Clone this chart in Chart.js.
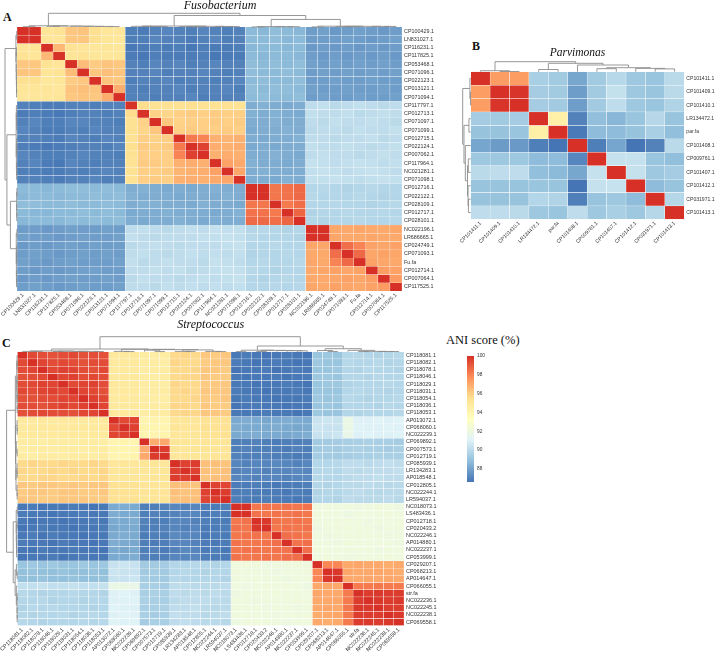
<!DOCTYPE html>
<html><head><meta charset="utf-8">
<script src="https://cdn.jsdelivr.net/npm/chart.js@4.4.1/dist/chart.umd.min.js"></script>
<style>
html,body{margin:0;padding:0;background:#fff;}
body{width:722px;height:652px;position:relative;overflow:hidden;}
canvas{position:absolute;}
.lab{position:absolute;font-family:'Liberation Serif','Times New Roman',serif;color:#111;line-height:1;white-space:nowrap;}
</style></head><body>
<div class="lab" style="left:3px;top:11px;font-weight:bold;font-size:12px">A</div>
<div class="lab" style="left:472px;top:40px;font-weight:bold;font-size:12px">B</div>
<div class="lab" style="left:2px;top:337px;font-weight:bold;font-size:12px">C</div>
<div class="lab" style="left:446px;top:334px;font-size:12.5px">ANI score (%)</div>
<canvas id="chartA" width="440" height="341" style="left:0;top:0"></canvas>
<canvas id="chartB" width="267" height="215" style="left:455px;top:30px"></canvas>
<canvas id="chartC" width="446" height="334" style="left:0;top:318px"></canvas>
<canvas id="chartL" width="60" height="138" style="left:455px;top:350px"></canvas>
<script>
// ---------------- DATA ----------------
const fusoLabels = ['CP100429.1','LN831027.1','CP116231.1','CP117825.1','CP053468.1','CP071096.1','CP022123.1','CP013121.1','CP071094.1',
 'CP117797.1','CP012713.1','CP071097.1','CP071099.1','CP012715.1','CP022124.1','CP007062.1','CP117964.1','NC021281.1','CP071098.1',
 'CP012716.1','CP022122.1','CP028109.1','CP012717.1','CP028101.1',
 'NC022196.1','LR686665.1','CP024749.1','CP071093.1','Fu.fa','CP012714.1','CP007064.1','CP117525.1'];

const fusoANI = [
[100,100,95.2,95.3,96.2,96.3,95.5,95.1,95.0, 86.9,86.8,87.0,87.1,87.0,86.9,87.1,87.0,86.9,87.0, 88.7,88.6,88.8,88.7,88.6, 87.8,87.9,87.7,87.8,87.9,87.8,87.7,87.8],
[100,100,95.2,95.2,96.2,96.2,95.5,95.1,95.0, 86.9,86.9,87.1,87.0,87.0,86.8,87.0,87.1,86.9,87.0, 88.7,88.7,88.8,88.6,88.7, 87.8,87.8,87.8,87.9,87.8,87.7,87.8,87.9],
[95.2,95.2,100,96.6,95.3,95.2,95.0,95.1,95.0, 86.7,86.8,86.9,86.8,86.9,86.7,86.9,86.8,86.8,86.9, 88.6,88.7,88.7,88.6,88.7, 87.7,87.8,87.7,87.8,87.7,87.8,87.7,87.8],
[95.3,95.2,96.6,100,95.2,95.3,95.1,95.0,95.1, 86.8,86.7,86.9,86.8,86.8,86.8,86.9,86.7,86.8,86.8, 88.7,88.6,88.7,88.7,88.6, 87.8,87.7,87.8,87.7,87.8,87.7,87.8,87.7],
[96.2,96.2,95.3,95.2,100,96.5,96.1,96.3,96.2, 87.0,86.9,87.1,87.0,87.1,86.9,87.0,87.1,87.0,87.0, 88.8,88.7,88.8,88.7,88.8, 87.9,87.8,87.9,87.8,87.9,87.8,87.9,87.8],
[96.3,96.2,95.2,95.3,96.5,100,96.2,96.4,96.3, 87.0,87.0,87.1,86.9,87.0,87.0,87.1,87.0,86.9,87.0, 88.8,88.7,88.7,88.8,88.7, 87.8,87.9,87.8,87.9,87.8,87.9,87.8,87.9],
[95.5,95.5,95.0,95.1,96.1,96.2,100,96.3,96.2, 86.9,87.0,87.0,87.1,86.9,87.0,87.0,86.9,87.0,87.1, 88.7,88.8,88.7,88.7,88.8, 87.8,87.8,87.9,87.8,87.8,87.9,87.8,87.8],
[95.1,95.1,95.1,95.0,96.3,96.4,96.3,100,96.9, 87.0,86.9,87.0,87.0,87.1,86.9,87.0,87.0,87.1,86.9, 88.8,88.7,88.8,88.8,88.7, 87.9,87.8,87.8,87.9,87.8,87.8,87.9,87.8],
[95.0,95.0,95.0,95.1,96.2,96.3,96.2,96.9,100, 87.0,87.0,86.9,87.0,87.0,87.1,86.9,87.0,87.0,87.0, 88.7,88.8,88.7,88.7,88.8, 87.8,87.9,87.8,87.8,87.9,87.8,87.8,87.9],
[87.0,86.9,86.8,86.8,87.0,87.0,86.9,87.0,87.0, 100,95.6,95.4,95.4,95.4,95.5,95.4,95.3,95.4,95.3, 88.3,88.4,88.3,88.2,88.3, 90.1,90.2,90.0,90.1,90.2,90.1,90.0,90.1],
[86.8,86.9,86.8,86.7,86.9,87.0,87.0,86.9,87.0, 95.6,100,95.9,95.8,96.0,96.1,96.0,96.1,96.0,96.0, 88.4,88.3,88.4,88.3,88.2, 90.2,90.1,90.1,90.2,90.0,90.1,90.2,90.1],
[87.0,87.1,86.9,86.9,87.1,87.1,87.0,87.0,86.9, 95.4,95.9,100,96.2,95.9,96.0,96.0,96.1,96.0,96.1, 88.3,88.3,88.4,88.3,88.3, 90.1,90.0,90.2,90.1,90.1,90.2,90.1,90.0],
[87.1,87.0,86.8,86.8,87.0,86.9,87.1,87.0,87.0, 95.4,95.8,96.2,100,96.0,96.1,96.0,96.0,96.1,96.0, 88.2,88.3,88.3,88.4,88.3, 90.0,90.1,90.1,90.0,90.2,90.1,90.1,90.2],
[87.0,87.0,86.9,86.8,87.1,87.0,86.9,87.1,87.0, 95.4,96.0,95.9,96.0,100,98.2,98.0,96.8,96.7,96.8, 88.3,88.2,88.3,88.3,88.4, 90.1,90.1,90.0,90.1,90.1,90.2,90.0,90.1],
[86.9,86.8,86.7,86.8,86.9,87.0,87.0,86.9,87.1, 95.5,96.1,96.0,96.1,98.2,100,99.6,96.9,96.8,96.9, 88.2,88.3,88.2,88.3,88.3, 90.2,90.1,90.1,90.2,90.1,90.0,90.1,90.2],
[87.1,87.0,86.9,86.9,87.0,87.1,87.0,87.0,86.9, 95.4,96.0,96.0,96.0,98.0,99.6,100,96.8,96.9,96.8, 88.3,88.3,88.4,88.3,88.2, 90.1,90.2,90.1,90.1,90.0,90.1,90.2,90.1],
[87.0,87.1,86.8,86.7,87.1,87.0,86.9,87.0,87.0, 95.3,96.1,96.1,96.0,96.8,96.9,96.8,100,97.2,97.0, 88.4,88.3,88.3,88.2,88.3, 90.3,90.2,90.1,90.2,90.3,90.2,90.1,90.2],
[86.9,86.9,86.8,86.8,87.0,86.9,87.0,87.1,87.0, 95.4,96.0,96.0,96.1,96.7,96.8,96.9,97.2,100,97.1, 88.3,88.4,88.3,88.3,88.3, 90.2,90.3,90.2,90.1,90.2,90.3,90.2,90.1],
[87.0,87.0,86.9,86.8,87.0,87.0,87.1,86.9,87.0, 95.3,96.0,96.1,96.0,96.8,96.9,96.8,97.0,97.1,100, 88.3,88.3,88.2,88.4,88.3, 90.2,90.2,90.3,90.2,90.1,90.2,90.3,90.2],
[88.7,88.7,88.6,88.7,88.8,88.8,88.7,88.8,88.7, 88.3,88.4,88.3,88.2,88.3,88.2,88.3,88.4,88.3,88.3, 100,100,98.3,98.4,98.6, 89.8,89.9,89.8,89.7,89.8,89.9,89.8,89.8],
[88.6,88.7,88.7,88.6,88.7,88.7,88.8,88.7,88.8, 88.4,88.3,88.3,88.3,88.2,88.3,88.3,88.3,88.4,88.3, 100,100,98.3,98.4,98.6, 89.9,89.8,89.8,89.8,89.9,89.8,89.7,89.8],
[88.8,88.8,88.7,88.7,88.8,88.7,88.7,88.8,88.7, 88.3,88.4,88.4,88.3,88.3,88.2,88.4,88.3,88.3,88.2, 98.3,98.3,100,98.2,98.5, 89.8,89.8,89.9,89.8,89.8,89.7,89.8,89.9],
[88.7,88.6,88.6,88.7,88.7,88.8,88.7,88.8,88.7, 88.2,88.3,88.3,88.4,88.3,88.3,88.3,88.2,88.3,88.4, 98.4,98.4,98.2,100,98.7, 89.7,89.8,89.8,89.9,89.8,89.8,89.9,89.8],
[88.6,88.7,88.7,88.6,88.8,88.7,88.8,88.7,88.8, 88.3,88.2,88.3,88.3,88.4,88.3,88.2,88.3,88.3,88.3, 98.6,98.6,98.5,98.7,100, 89.8,89.7,89.8,89.8,89.9,89.8,89.8,89.9],
[87.8,87.8,87.7,87.8,87.9,87.8,87.8,87.9,87.8, 90.1,90.2,90.1,90.0,90.1,90.2,90.1,90.3,90.2,90.2, 89.8,89.9,89.8,89.7,89.8, 100,100,97.1,97.0,97.1,97.0,97.0,97.1],
[87.9,87.8,87.8,87.7,87.8,87.9,87.8,87.8,87.9, 90.2,90.1,90.0,90.1,90.1,90.1,90.2,90.2,90.3,90.2, 89.9,89.8,89.8,89.8,89.7, 100,100,97.1,97.0,97.0,97.1,97.0,97.0],
[87.7,87.8,87.7,87.8,87.9,87.8,87.9,87.8,87.8, 90.0,90.1,90.2,90.1,90.0,90.1,90.1,90.1,90.2,90.3, 89.8,89.8,89.9,89.8,89.8, 97.1,97.1,100,98.5,98.0,97.2,97.1,97.2],
[87.8,87.9,87.8,87.7,87.8,87.9,87.8,87.9,87.8, 90.1,90.2,90.1,90.0,90.1,90.2,90.1,90.2,90.1,90.2, 89.7,89.8,89.8,89.9,89.8, 97.0,97.0,98.5,100,98.6,97.1,97.2,97.1],
[87.9,87.8,87.7,87.8,87.9,87.8,87.8,87.8,87.9, 90.2,90.0,90.1,90.2,90.1,90.1,90.0,90.3,90.2,90.1, 89.8,89.9,89.8,89.8,89.9, 97.1,97.0,98.0,98.6,100,97.2,97.1,97.0],
[87.8,87.7,87.8,87.7,87.8,87.9,87.9,87.8,87.8, 90.1,90.1,90.2,90.1,90.2,90.0,90.1,90.2,90.3,90.2, 89.9,89.8,89.7,89.8,89.8, 97.0,97.1,97.2,97.1,97.2,100,97.3,97.2],
[87.7,87.8,87.7,87.8,87.9,87.8,87.8,87.9,87.8, 90.0,90.2,90.1,90.1,90.0,90.1,90.2,90.1,90.2,90.3, 89.8,89.7,89.8,89.9,89.8, 97.0,97.0,97.1,97.2,97.1,97.3,100,97.4],
[87.8,87.9,87.8,87.7,87.8,87.9,87.8,87.8,87.9, 90.1,90.1,90.0,90.2,90.1,90.2,90.1,90.2,90.1,90.2, 89.8,89.8,89.9,89.8,89.9, 97.1,97.0,97.2,97.1,97.0,97.2,97.4,100]
];

// dendrogram: leaf = index, node = [left, right, relative height]
const fusoTree = [
  [[0,1,0.02],[[2,3,0.05],[4,[5,[6,[7,8,0.03],0.04],0.05],0.06],0.07],0.09],
  [[[9,[10,[11,12,0.03],0.04],0.05],[[13,[14,15,0.01],0.03],[16,[17,18,0.03],0.04],0.05],0.07],
   [[[19,20,0.005],[21,[22,23,0.02],0.025],0.03],[[24,25,0.005],[[26,[27,28,0.02],0.025],[29,[30,31,0.04],0.045],0.05],0.06],0.55],0.84],
  1];

const parvLabels = ['CP101411.1','CP101409.1','CP101410.1','LR134472.1','par.fa','CP101408.1','CP009761.1','CP101407.1','CP101412.1','CP031971.1','CP101413.1'];
const parvANI = [
[100,97.3,97.3,89.5,89.3,88.1,89.3,89.9,89.2,89.1,90.0],
[97.3,100,99.9,89.4,89.3,87.8,89.3,90.25,89.2,89.1,90.0],
[97.3,99.9,100,89.4,89.3,87.8,89.3,90.1,89.2,89.1,89.7],
[89.4,89.3,89.4,100,94.4,87.0,88.85,88.6,89.1,89.85,89.05],
[89.0,89.0,89.1,94.4,100,86.75,88.75,88.75,89.0,89.5,88.85],
[88.05,87.75,87.7,86.9,86.6,100,86.9,88.05,86.6,87.0,90.0],
[89.2,89.2,89.2,88.75,88.75,87.1,100,90.3,90.3,89.1,88.85],
[90.0,90.1,90.1,88.85,88.7,88.1,90.3,100,90.3,89.2,89.4],
[89.05,89.05,89.05,89.1,89.05,86.6,90.3,90.35,100,88.75,89.05],
[89.0,89.0,89.0,89.8,89.7,86.9,89.05,89.2,88.75,100,89.85],
[90.1,90.1,90.0,89.2,89.1,90.1,89.2,89.5,89.2,89.85,100]
];
const parvTree = [[0,[1,2,0.02],0.1],[[3,4,0.22],[5,[[6,7,0.3],[8,[9,10,0.28],0.33],0.4],0.67],0.84],1];

const streptoLabels = ['CP118081.1','CP118082.1','CP118078.1','CP118046.1','CP118029.1','CP118031.1','CP118054.1','CP118036.1','CP118053.1',
 'AP013072.1','CP068060.1','NC022239.1','CP069892.1','CP007573.1','CP012719.1','CP085939.1','LR134283.1','AP018548.1',
 'CP012805.1','NC022244.1','LR594037.1','NC018073.1','LS483436.1','CP012718.1','CP020433.2','NC022246.1','AP014880.1','NC022237.1','CP053999.1',
 'CP029207.1','CP068213.1','AP014647.1','CP066055.1','str.fa','NC022236.1','NC022245.1','NC022238.1','CP069558.1'];
const streptoANI = [
[100,99.4,99.3,99.2,99.3,99.4,99.2,99.3,99.2, 94.9,94.8,94.9, 94.7,94.6,94.7, 95.7,95.8,95.7, 96.2,96.1,96.2, 86.7,86.8,86.7,86.6,86.7,86.8,86.7,86.6, 89.1,89.2,89.1, 89.8,89.9,89.8,89.7,89.8,89.9],
[99.4,100,99.5,99.3,99.4,99.3,99.2,99.3,99.3, 94.8,94.9,94.9, 94.7,94.7,94.6, 95.8,95.7,95.7, 96.1,96.2,96.2, 86.8,86.7,86.6,86.7,86.8,86.7,86.6,86.7, 89.2,89.1,89.1, 89.9,89.8,89.8,89.9,89.7,89.8],
[99.3,99.5,100,99.4,99.6,99.5,99.3,99.2,99.4, 94.9,94.9,94.8, 94.6,94.7,94.7, 95.7,95.7,95.8, 96.2,96.2,96.1, 86.6,86.7,86.7,86.8,86.6,86.7,86.8,86.7, 89.1,89.1,89.2, 89.8,89.7,89.9,89.8,89.8,89.7],
[99.2,99.3,99.4,100,99.5,99.6,99.3,99.4,99.3, 94.8,94.9,94.9, 94.7,94.6,94.7, 95.7,95.8,95.8, 96.2,96.1,96.1, 86.7,86.6,86.7,86.7,86.8,86.6,86.7,86.8, 89.2,89.2,89.1, 89.8,89.8,89.7,89.9,89.8,89.8],
[99.3,99.4,99.6,99.5,100,99.4,99.5,99.6,99.3, 94.9,94.8,94.8, 94.7,94.7,94.6, 95.8,95.7,95.7, 96.1,96.2,96.2, 86.7,86.7,86.6,86.7,86.7,86.8,86.7,86.6, 89.1,89.2,89.2, 89.7,89.8,89.8,89.8,89.9,89.8],
[99.4,99.3,99.5,99.6,99.4,100,99.5,99.4,99.2, 94.9,94.9,94.9, 94.6,94.7,94.7, 95.7,95.8,95.7, 96.2,96.2,96.2, 86.8,86.7,86.7,86.6,86.7,86.7,86.8,86.7, 89.1,89.1,89.1, 89.8,89.9,89.8,89.8,89.7,89.8],
[99.2,99.2,99.3,99.3,99.5,99.5,100,99.6,99.4, 94.8,94.9,94.8, 94.7,94.6,94.6, 95.7,95.7,95.8, 96.1,96.1,96.2, 86.7,86.8,86.7,86.7,86.6,86.7,86.7,86.8, 89.2,89.1,89.2, 89.9,89.8,89.7,89.8,89.8,89.9],
[99.3,99.3,99.2,99.4,99.6,99.4,99.6,100,99.5, 94.9,94.8,94.9, 94.7,94.7,94.7, 95.8,95.8,95.7, 96.2,96.1,96.1, 86.6,86.7,86.8,86.7,86.7,86.6,86.7,86.7, 89.1,89.2,89.1, 89.8,89.8,89.8,89.7,89.9,89.8],
[99.2,99.3,99.4,99.3,99.3,99.2,99.4,99.5,100, 94.9,94.9,94.8, 94.6,94.7,94.7, 95.7,95.8,95.8, 96.2,96.2,96.1, 86.7,86.7,86.7,86.8,86.7,86.7,86.6,86.7, 89.2,89.1,89.1, 89.8,89.7,89.8,89.8,89.8,89.9],
[94.9,94.8,94.9,94.8,94.9,94.9,94.8,94.9,94.9, 100,99.4,99.5, 94.0,94.1,94.0, 95.0,95.1,95.0, 95.3,95.4,95.3, 88.2,88.3,88.2,88.1,88.2,88.3,88.2,88.2, 90.4,90.5,90.4, 91.8,91.0,91.0,91.1,91.0,91.1],
[94.8,94.9,94.9,94.9,94.8,94.9,94.9,94.8,94.9, 99.4,100,99.6, 94.1,94.0,94.0, 95.1,95.0,95.0, 95.4,95.3,95.3, 88.3,88.2,88.2,88.2,88.3,88.2,88.1,88.2, 90.5,90.4,90.4, 91.8,91.1,91.0,91.0,91.1,91.0],
[94.9,94.9,94.8,94.9,94.8,94.9,94.8,94.9,94.8, 99.5,99.6,100, 94.0,94.0,94.1, 95.0,95.0,95.1, 95.3,95.3,95.4, 88.2,88.2,88.3,88.2,88.2,88.1,88.2,88.3, 90.4,90.4,90.5, 91.7,91.0,91.1,91.0,91.0,91.1],
[94.7,94.7,94.6,94.7,94.7,94.6,94.7,94.7,94.6, 94.0,94.1,94.0, 100,96.9,97.0, 95.1,95.1,95.0, 95.2,95.2,95.1, 86.9,86.9,87.0,86.9,86.8,86.9,86.9,87.0, 89.3,89.3,89.4, 89.5,89.5,89.6,89.5,89.5,89.4],
[94.6,94.7,94.7,94.6,94.7,94.7,94.6,94.7,94.7, 94.1,94.0,94.0, 96.9,100,99.7, 95.1,95.0,95.1, 95.2,95.1,95.2, 86.9,87.0,86.9,86.9,86.9,86.8,87.0,86.9, 89.3,89.4,89.3, 89.5,89.6,89.5,89.5,89.4,89.5],
[94.7,94.6,94.7,94.7,94.6,94.7,94.7,94.6,94.7, 94.0,94.0,94.1, 97.0,99.7,100, 95.0,95.1,95.1, 95.1,95.2,95.2, 87.0,86.9,86.9,87.0,86.9,86.9,86.8,86.9, 89.4,89.3,89.3, 89.4,89.5,89.5,89.6,89.5,89.5],
[95.7,95.8,95.7,95.7,95.8,95.7,95.7,95.8,95.7, 95.0,95.1,95.0, 95.1,95.1,95.0, 100,99.6,99.7, 96.4,96.4,96.3, 87.1,87.0,87.1,87.1,87.2,87.1,87.0,87.1, 89.8,89.8,89.9, 90.1,90.1,90.0,90.1,90.2,90.1],
[95.8,95.7,95.7,95.8,95.7,95.8,95.7,95.7,95.8, 95.1,95.0,95.0, 95.1,95.0,95.1, 99.6,100,99.6, 96.4,96.3,96.4, 87.0,87.1,87.1,87.0,87.1,87.1,87.2,87.1, 89.8,89.9,89.8, 90.1,90.0,90.1,90.1,90.1,90.2],
[95.7,95.7,95.8,95.8,95.7,95.7,95.8,95.7,95.8, 95.0,95.0,95.1, 95.0,95.1,95.1, 99.7,99.6,100, 96.3,96.4,96.4, 87.1,87.1,87.0,87.1,87.1,87.0,87.1,87.2, 89.9,89.8,89.8, 90.0,90.1,90.1,90.2,90.1,90.1],
[96.2,96.1,96.2,96.2,96.1,96.2,96.1,96.2,96.2, 95.3,95.4,95.3, 95.2,95.2,95.1, 96.4,96.4,96.3, 100,99.6,99.5, 86.8,86.8,86.9,86.8,86.7,86.8,86.8,86.9, 89.8,89.7,89.8, 90.0,90.0,90.1,90.0,89.9,90.0],
[96.1,96.2,96.2,96.1,96.2,96.2,96.1,96.1,96.2, 95.4,95.3,95.3, 95.2,95.1,95.2, 96.4,96.3,96.4, 99.6,100,99.7, 86.8,86.9,86.8,86.8,86.8,86.7,86.9,86.8, 89.7,89.8,89.8, 90.0,90.1,90.0,89.9,90.0,90.0],
[96.2,96.2,96.1,96.1,96.2,96.2,96.2,96.1,96.1, 95.3,95.3,95.4, 95.1,95.2,95.2, 96.3,96.4,96.4, 99.5,99.7,100, 86.9,86.8,86.8,86.9,86.8,86.8,86.7,86.8, 89.8,89.8,89.7, 90.1,90.0,90.0,90.0,90.1,89.9],
[86.7,86.8,86.6,86.7,86.7,86.8,86.7,86.6,86.7, 88.2,88.3,88.2, 86.9,86.9,87.0, 87.1,87.0,87.1, 86.8,86.8,86.9, 100,100,98.3,98.4,98.3,98.4,98.3,98.4, 92.1,92.2,92.1, 92.1,92.0,92.1,92.2,92.1,92.0],
[86.8,86.7,86.7,86.6,86.7,86.7,86.8,86.7,86.7, 88.3,88.2,88.2, 86.9,87.0,86.9, 87.0,87.1,87.1, 86.8,86.9,86.8, 100,100,98.4,98.3,98.4,98.3,98.4,98.3, 92.2,92.1,92.1, 92.0,92.1,92.1,92.1,92.2,92.1],
[86.7,86.6,86.7,86.7,86.6,86.7,86.7,86.8,86.7, 88.2,88.2,88.3, 87.0,86.9,86.9, 87.1,87.1,87.0, 86.9,86.8,86.8, 98.3,98.4,100,99.8,98.4,98.3,98.4,98.3, 92.1,92.1,92.2, 92.1,92.1,92.0,92.1,92.1,92.2],
[86.6,86.7,86.8,86.7,86.7,86.6,86.7,86.7,86.8, 88.1,88.2,88.2, 86.9,86.9,87.0, 87.1,87.0,87.1, 86.8,86.8,86.9, 98.4,98.3,99.8,100,98.3,98.4,98.3,98.4, 92.0,92.1,92.1, 92.2,92.1,92.1,92.0,92.1,92.1],
[86.7,86.8,86.6,86.8,86.7,86.7,86.6,86.7,86.7, 88.2,88.3,88.2, 86.8,86.9,86.9, 87.2,87.1,87.1, 86.7,86.8,86.8, 98.3,98.4,98.4,98.3,100,98.5,98.4,98.3, 92.1,92.0,92.1, 92.1,92.2,92.1,92.1,92.0,92.1],
[86.8,86.7,86.7,86.6,86.8,86.7,86.7,86.6,86.7, 88.3,88.2,88.1, 86.9,86.8,86.9, 87.1,87.1,87.0, 86.8,86.7,86.8, 98.4,98.3,98.3,98.4,98.5,100,98.4,98.5, 92.1,92.1,92.0, 92.2,92.1,92.1,92.1,92.1,92.0],
[86.7,86.6,86.8,86.7,86.7,86.8,86.7,86.7,86.6, 88.2,88.1,88.2, 86.9,87.0,86.8, 87.0,87.2,87.1, 86.8,86.9,86.7, 98.3,98.4,98.4,98.3,98.4,98.4,100,98.5, 92.2,92.1,92.1, 92.1,92.1,92.2,92.0,92.1,92.1],
[86.6,86.7,86.7,86.8,86.6,86.7,86.8,86.7,86.7, 88.2,88.2,88.3, 87.0,86.9,86.9, 87.1,87.1,87.2, 86.9,86.8,86.8, 98.4,98.3,98.3,98.4,98.3,98.5,98.5,100, 92.1,92.2,92.1, 92.0,92.1,92.1,92.1,92.2,92.1],
[89.1,89.2,89.1,89.2,89.1,89.1,89.2,89.1,89.2, 90.4,90.5,90.4, 89.3,89.3,89.4, 89.8,89.8,89.9, 89.8,89.7,89.8, 92.1,92.2,92.1,92.0,92.1,92.1,92.2,92.1, 100,97.9,97.9, 97.0,97.1,97.0,97.0,96.9,97.0],
[88.9,89.0,88.9,88.9,89.0,88.9,88.9,89.0,88.9, 90.5,90.4,90.4, 89.3,89.4,89.3, 89.8,89.9,89.8, 89.7,89.8,89.8, 92.2,92.1,92.1,92.1,92.0,92.1,92.1,92.2, 97.9,100,99.8, 97.1,97.0,97.0,97.1,97.0,96.9],
[88.9,88.9,89.0,88.9,88.9,89.0,88.9,88.9,89.0, 90.4,90.4,90.5, 89.4,89.3,89.3, 89.9,89.8,89.8, 89.8,89.8,89.7, 92.1,92.1,92.2,92.1,92.1,92.0,92.1,92.1, 97.9,99.8,100, 97.0,97.0,97.1,97.0,97.1,97.0],
[90.2,90.2,90.3,90.2,90.2,90.3,90.2,90.2,90.3, 91.8,91.8,91.7, 89.5,89.5,89.4, 90.1,90.1,90.0, 90.0,90.0,90.1, 92.1,92.0,92.1,92.2,92.1,92.2,92.1,92.0, 97.0,97.1,97.0, 100,98.2,98.2,98.3,98.2,98.2],
[89.9,89.8,89.7,89.8,89.8,89.9,89.8,89.8,89.7, 91.0,91.1,91.0, 89.5,89.6,89.5, 90.1,90.0,90.1, 90.0,90.1,90.0, 92.0,92.1,92.1,92.1,92.2,92.1,92.1,92.1, 97.1,97.0,97.0, 98.2,100,99.7,99.8,99.7,99.7],
[89.8,89.8,89.9,89.7,89.8,89.8,89.7,89.8,89.8, 91.0,91.0,91.1, 89.6,89.5,89.5, 90.0,90.1,90.1, 90.1,90.0,90.0, 92.1,92.1,92.0,92.1,92.1,92.1,92.2,92.1, 97.0,97.0,97.1, 98.2,99.7,100,99.8,99.7,99.8],
[89.7,89.9,89.8,89.9,89.8,89.8,89.8,89.7,89.8, 91.1,91.0,91.0, 89.5,89.5,89.6, 90.1,90.1,90.2, 90.0,89.9,90.0, 92.2,92.1,92.1,92.0,92.1,92.1,92.0,92.1, 97.0,97.1,97.0, 98.3,99.8,99.8,100,99.7,99.7],
[89.8,89.7,89.8,89.8,89.9,89.7,89.8,89.9,89.8, 91.0,91.1,91.0, 89.5,89.4,89.5, 90.2,90.1,90.1, 89.9,90.0,90.1, 92.1,92.2,92.1,92.1,92.0,92.1,92.1,92.2, 96.9,97.0,97.1, 98.2,99.7,99.7,99.7,100,99.8],
[89.9,89.8,89.7,89.8,89.8,89.8,89.9,89.8,89.9, 91.1,91.0,91.1, 89.4,89.5,89.5, 90.1,90.2,90.1, 90.0,90.0,89.9, 92.0,92.1,92.2,92.1,92.1,92.0,92.1,92.1, 97.0,96.9,97.0, 98.2,99.7,99.8,99.7,99.8,100]
];
const streptoTree = [
  [[[0,[1,2,0.01],0.02],[[3,4,0.01],[[5,6,0.01],[7,8,0.01],0.02],0.03],0.05],
   [[9,[10,11,0.01],0.02],[[12,[13,14,0.01],0.1],[[15,[16,17,0.01],0.02],[18,[19,20,0.01],0.02],0.12],0.14],0.16],0.18],
  [[[21,22,0.005],[[23,24,0.01],[25,[26,[27,28,0.06],0.07],0.08],0.09],0.1],
   [[29,[30,31,0.01],0.08],[32,[[33,34,0.01],[35,[36,37,0.01],0.015],0.02],0.09],0.2],0.38],
  1];

const legendTicks = [88, 90, 92, 94, 96, 98, 100];
const SCALE_MIN = 86.6, SCALE_MAX = 100;
const COLOR_STOPS = ['#4575B4','#91BFDB','#E0F3F8','#FFFFBF','#FEE090','#FC8D59','#D73027'];

// ---------------- HELPERS ----------------
function hexToRgb(h){ return [parseInt(h.slice(1,3),16), parseInt(h.slice(3,5),16), parseInt(h.slice(5,7),16)]; }
const STOP_RGB = COLOR_STOPS.map(hexToRgb);
function aniColor(v){
  let t = (v - SCALE_MIN) / (SCALE_MAX - SCALE_MIN);
  t = Math.max(0, Math.min(1, t));
  const seg = t * (STOP_RGB.length - 1);
  const i = Math.min(STOP_RGB.length - 2, Math.floor(seg));
  const f = seg - i;
  const a = STOP_RGB[i], b = STOP_RGB[i+1];
  const c = a.map((x, k) => Math.round(x + (b[k] - x) * f));
  return `rgb(${c[0]},${c[1]},${c[2]})`;
}
const LABEL_FAMILY = "'Liberation Sans Narrow','Arial Narrow','Liberation Sans',Arial,sans-serif";
const measureCtx = document.createElement('canvas').getContext('2d');
function fitSize(sample, targetWidth){
  measureCtx.font = `20px ${LABEL_FAMILY}`;
  return 20 * targetWidth / measureCtx.measureText(sample).width;
}

function makeDendrogram(tree, colDepth, rowDepth){
  return {
    id: 'dendrogram',
    afterDraw(chart){
      const {ctx, chartArea} = chart;
      const xs = chart.scales.x, ys = chart.scales.yLab;
      ctx.save();
      ctx.strokeStyle = '#8c8c8c';
      ctx.lineWidth = 0.9;
      const drawTree = (pt) => {
        const rec = (node) => {
          if (typeof node === 'number') return {p: node, h: 0};
          const a = rec(node[0]), b = rec(node[1]), h = node[2];
          const p0 = pt(a.p, a.h), p1 = pt(a.p, h), p2 = pt(b.p, h), p3 = pt(b.p, b.h);
          ctx.beginPath();
          ctx.moveTo(p0[0], p0[1]); ctx.lineTo(p1[0], p1[1]); ctx.lineTo(p2[0], p2[1]); ctx.lineTo(p3[0], p3[1]);
          ctx.stroke();
          return {p: (a.p + b.p) / 2, h};
        };
        rec(tree);
      };
      drawTree((p, h) => [xs.getPixelForValue(p), chartArea.top - h * colDepth]);
      drawTree((p, h) => [chartArea.left - h * rowDepth, ys.getPixelForValue(p)]);
      ctx.restore();
    }
  };
}

function heatmap(canvasId, cfg){
  const n = cfg.labels.length;
  const datasets = cfg.labels.map((name, r) => ({
    label: name,
    data: cfg.labels.map(() => [r, r + 1]),
    backgroundColor: cfg.matrix[r].map(aniColor),
    borderColor: '#ffffff',
    borderWidth: 0.45,
    borderSkipped: false,
    barPercentage: 1,
    categoryPercentage: 1,
    grouped: false
  }));
  const tickFont = {family: LABEL_FAMILY, size: cfg.fontSize};
  return new Chart(document.getElementById(canvasId), {
    type: 'bar',
    data: {labels: cfg.labels, datasets},
    options: {
      responsive: false,
      animation: false,
      events: [],
      layout: {padding: 0},
      plugins: {
        legend: {display: false},
        tooltip: {enabled: false},
        title: {
          display: true, text: cfg.title, fullSize: cfg.titleFull,
          color: '#111',
          font: {family: "'Liberation Serif','Times New Roman',serif", style: 'italic', size: cfg.titleSize, lineHeight: 1, weight: 'normal'},
          padding: {top: cfg.titlePadTop, bottom: cfg.titlePadBottom}
        }
      },
      scales: {
        x: {
          type: 'category', offset: true,
          grid: {display: false, drawTicks: false}, border: {display: false},
          ticks: {autoSkip: false, minRotation: 45, maxRotation: 45, font: tickFont, color: '#333', padding: 1},
          afterFit: (s) => { s.height = cfg.xHeight; }
        },
        y: {
          type: 'linear', min: 0, max: n, reverse: true,
          grid: {display: false, drawTicks: false}, border: {display: false},
          ticks: {display: false},
          afterFit: (s) => { s.width = cfg.leftWidth; }
        },
        yLab: {
          type: 'category', labels: cfg.labels, position: 'right', offset: true,
          grid: {display: false, drawTicks: false}, border: {display: false},
          ticks: {autoSkip: false, font: tickFont, color: '#333', padding: 2},
          afterFit: (s) => { s.width = cfg.rightWidth; }
        }
      }
    },
    plugins: [makeDendrogram(cfg.tree, cfg.colDepth, cfg.rowDepth)]
  });
}

// ---------------- CHARTS ----------------
heatmap('chartA', {
  labels: fusoLabels, matrix: fusoANI, tree: fusoTree,
  title: 'Fusobacterium', titleFull: true, titleSize: 12, titlePadTop: 0, titlePadBottom: 15,
  xHeight: 50, leftWidth: 17, rightWidth: 38, colDepth: 13.7, rowDepth: 12,
  fontSize: fitSize('CP100429.1', 30)
});
heatmap('chartB', {
  labels: parvLabels, matrix: parvANI, tree: parvTree,
  title: 'Parvimonas', titleFull: false, titleSize: 11.5, titlePadTop: 17.25, titlePadBottom: 12.95,
  xHeight: 25.7, leftWidth: 15.7, rightWidth: 37.7, colDepth: 10, rowDepth: 8,
  fontSize: fitSize('CP101411.1', 28)
});
heatmap('chartC', {
  labels: streptoLabels, matrix: streptoANI, tree: streptoTree,
  title: 'Streptococcus', titleFull: false, titleSize: 12, titlePadTop: 1, titlePadBottom: 20.7,
  xHeight: 26.3, leftWidth: 15, rightWidth: 42, colDepth: 15, rowDepth: 10.7,
  fontSize: fitSize('CP118082.1', 30)
});

// colour key
new Chart(document.getElementById('chartL'), {
  type: 'bar',
  data: {labels: ['ANI'], datasets: [{
    data: [[SCALE_MIN, SCALE_MAX]],
    borderWidth: 0, barPercentage: 1, categoryPercentage: 1,
    backgroundColor: (c) => {
      const chart = c.chart; const {ctx, chartArea, scales} = chart;
      if (!chartArea) return '#ccc';
      const y0 = scales.y.getPixelForValue(SCALE_MIN), y1 = scales.y.getPixelForValue(SCALE_MAX);
      const g = ctx.createLinearGradient(0, y0, 0, y1);
      COLOR_STOPS.forEach((col, i) => g.addColorStop(i / (COLOR_STOPS.length - 1), col));
      return g;
    }
  }]},
  options: {
    responsive: false, animation: false, events: [],
    layout: {padding: {left: 12, top: 5, bottom: 5, right: 0}},
    plugins: {legend: {display: false}, tooltip: {enabled: false}},
    scales: {
      x: {display: false},
      y: {
        position: 'right', min: SCALE_MIN, max: SCALE_MAX,
        afterBuildTicks: (s) => { s.ticks = legendTicks.map(v => ({value: v})); },
        grid: {display: false, drawTicks: false}, border: {display: false},
        ticks: {font: {family: LABEL_FAMILY, size: fitSize('100', 8)}, color: '#333', padding: 3},
        afterFit: (s) => { s.width = 41; }
      }
    }
  }
});
</script>
</body></html>
